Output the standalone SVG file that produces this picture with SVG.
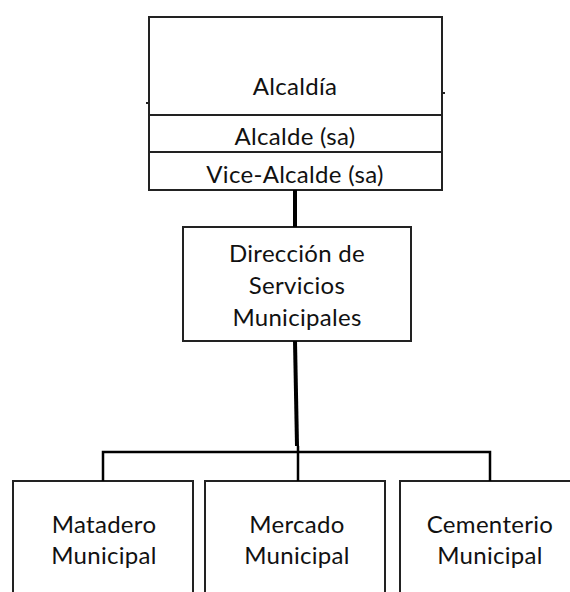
<svg xmlns="http://www.w3.org/2000/svg" width="570" height="592" viewBox="0 0 570 592">
<style>
.box{fill:#fff;stroke:#222;stroke-width:2}
.div{stroke:#222;stroke-width:2}
.t{font-family:Lato,"Open Sans","Liberation Sans",sans-serif;font-size:24px;letter-spacing:0.3px;fill:#111;text-anchor:middle}
.c{fill:none;stroke:#000;stroke-width:2.5}
.ct{fill:none;stroke:#000;stroke-width:4}
</style>
<rect width="570" height="592" fill="#fff"/>
<g id="alcaldia">
<rect class="box" x="149" y="17" width="293" height="173"/>
<line class="div" x1="149" y1="115" x2="442" y2="115"/>
<line class="div" x1="149" y1="152" x2="442" y2="152"/>
<line class="div" x1="146" y1="103" x2="149" y2="103"/>
<line class="div" x1="442" y1="93" x2="445" y2="93"/>
<text class="t" x="295" y="95">Alcaldía</text>
<text class="t" x="295" y="145">Alcalde (sa)</text>
<text class="t" x="295" y="183">Vice-Alcalde (sa)</text>
</g>
<g id="direccion">
<rect class="box" x="183" y="227" width="228" height="114"/>
<text class="t" x="297" y="262">Dirección de</text>
<text class="t" x="297" y="294">Servicios</text>
<text class="t" x="297" y="326">Municipales</text>
</g>
<g id="matadero">
<rect class="box" x="13" y="481" width="180" height="130"/>
<text class="t" x="104" y="533">Matadero</text>
<text class="t" x="104" y="564">Municipal</text>
</g>
<g id="mercado">
<rect class="box" x="205" y="481" width="180" height="130"/>
<text class="t" x="297" y="533">Mercado</text>
<text class="t" x="297" y="564">Municipal</text>
</g>
<g id="cementerio">
<rect class="box" x="400" y="481" width="190" height="130"/>
<text class="t" x="490" y="533">Cementerio</text>
<text class="t" x="490" y="564">Municipal</text>
</g>
<g id="connectors">
<line class="ct" x1="295" y1="190" x2="295" y2="227"/>
<line class="ct" x1="295" y1="341" x2="297" y2="446"/>
<polyline class="c" points="103,481 103,452 490,452 490,481"/>
<line class="c" x1="298" y1="446" x2="298" y2="481"/>
</g>
</svg>
